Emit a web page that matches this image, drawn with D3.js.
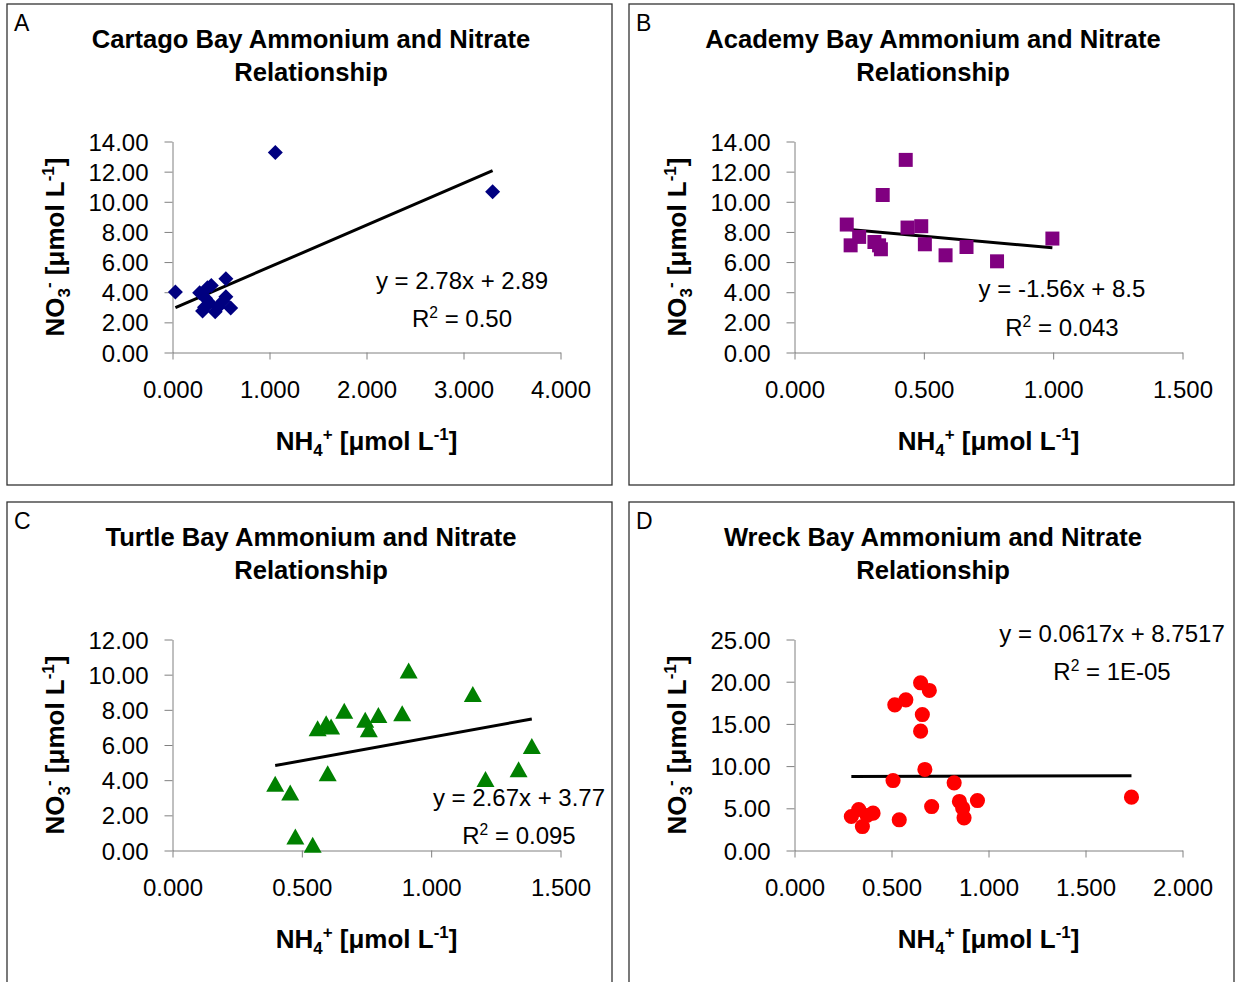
<!DOCTYPE html>
<html>
<head>
<meta charset="utf-8">
<script src="https://cdn.jsdelivr.net/npm/d3@7"></script>
<style>
    body { margin: 0; background: #fff; }
    svg { display: block; font-family: "Liberation Sans", Arial, sans-serif; }
    .axis path, .axis line { stroke: #808080; stroke-width: 1; }
    .axis text { font-size: 24px; fill: #000; }
</style>
</head>
<body>
<div id="chart"></div>
<script>
// values
const panelLetters = ["A", "B", "C", "D"];
const panelTitles = [
    ["Cartago Bay Ammonium and Nitrate", "Relationship"],
    ["Academy Bay Ammonium and Nitrate", "Relationship"],
    ["Turtle Bay Ammonium and Nitrate", "Relationship"],
    ["Wreck Bay Ammonium and Nitrate", "Relationship"]
];

const cartagoNH4 = [1.06, 3.30, 0.03, 0.55, 0.28, 0.36, 0.40, 0.38, 0.31, 0.44, 0.52, 0.60, 0.55, 0.47, 0.34, 0.33];
const cartagoNO3 = [13.27, 10.67, 4.02, 4.90, 3.97, 4.30, 4.45, 3.30, 2.75, 2.70, 3.40, 2.95, 3.70, 3.00, 3.60, 3.00];

const academyNH4 = [0.202, 0.217, 0.25, 0.309, 0.327, 0.334, 0.341, 0.43, 0.437, 0.49, 0.504, 0.584, 0.665, 0.783, 0.997];
const academyNO3 = [8.49, 7.11, 7.67, 7.33, 7.11, 6.85, 10.45, 12.78, 8.29, 8.38, 7.18, 6.45, 7.00, 6.05, 7.56];

const turtleNH4 = [0.397, 0.455, 0.475, 0.542, 0.561, 0.594, 0.613, 0.600, 0.664, 0.745, 0.759, 0.796, 0.888, 0.913, 1.161, 1.210, 1.338, 1.389];
const turtleNO3 = [3.79, 3.30, 0.80, 0.32, 6.95, 7.24, 7.05, 4.40, 7.95, 7.43, 6.90, 7.71, 7.81, 10.23, 8.90, 4.06, 4.62, 5.95];

const wreckNH4 = [0.293, 0.331, 0.350, 0.374, 0.405, 0.508, 0.517, 0.540, 0.574, 0.650, 0.659, 0.650, 0.695, 0.672, 0.707, 0.823, 0.850, 0.867, 0.874, 0.943, 1.737];
const wreckNO3 = [4.03, 4.86, 2.84, 4.15, 4.42, 8.29, 17.26, 3.64, 17.85, 19.87, 16.11, 14.14, 18.96, 9.60, 5.21, 8.02, 5.81, 5.01, 3.87, 5.92, 6.32];

const xTicksA = [0, 1, 2, 3, 4];
const xTicksB = [0, 0.5, 1, 1.5];
const xTicksC = [0, 0.5, 1, 1.5];
const xTicksD = [0, 0.5, 1, 1.5, 2];
const yTicksA = [0, 2, 4, 6, 8, 10, 12, 14];
const yTicksB = [0, 2, 4, 6, 8, 10, 12, 14];
const yTicksC = [0, 2, 4, 6, 8, 10, 12];
const yTicksD = [0, 5, 10, 15, 20, 25];

const trendSlopes = [2.78, -1.56, 2.67, 0.0617];
const trendIntercepts = [2.89, 8.5, 3.77, 8.7517];
const equationLabels = ["y = 2.78x + 2.89", "y = -1.56x + 8.5", "y = 2.67x + 3.77", "y = 0.0617x + 8.7517"];
const r2Labels = ["0.50", "0.043", "0.095", "1E-05"];

const markerColors = ["#000080", "#800080", "#008000", "#ff0000"];

const panels = [
    { x: cartagoNH4, y: cartagoNO3, xTicks: xTicksA, yTicks: yTicksA, marker: "diamond" },
    { x: academyNH4, y: academyNO3, xTicks: xTicksB, yTicks: yTicksB, marker: "square" },
    { x: turtleNH4, y: turtleNO3, xTicks: xTicksC, yTicks: yTicksC, marker: "triangle" },
    { x: wreckNH4, y: wreckNO3, xTicks: xTicksD, yTicks: yTicksD, marker: "circle" }
];

// layout
const width = 1235, height = 982;
const panelOrigins = [[7, 4], [629, 4], [7, 502], [629, 502]];
const panelW = 605, panelH = 481;
const plot = { left: 165.5, top: 137.5, width: 388, height: 211 };
const eqPos = [[455, 285, 323], [433, 293, 332], [512, 304, 342], [483, 140, 178]];

const svg = d3.select("#chart").append("svg")
    .attr("width", width)
    .attr("height", height);

svg.append("rect").attr("width", width).attr("height", height).attr("fill", "#fff");

// text with sub/superscript parts
function richText(sel, parts, size) {
    let shift = 0;
    parts.forEach(function(p) {
        let target = 0;
        let fs = size;
        if (p.s === "sub") { target = size * 0.22; fs = size * 0.65; }
        if (p.s === "sup") { target = -size * 0.38; fs = size * 0.65; }
        sel.append("tspan")
            .attr("dy", target - shift)
            .attr("font-size", fs)
            .text(p.t);
        shift = target;
    });
}

const yTitleParts = [{ t: "NO" }, { t: "3", s: "sub" }, { t: "-", s: "sup" }, { t: " [μmol L" }, { t: "-1", s: "sup" }, { t: "]" }];
const xTitleParts = [{ t: "NH" }, { t: "4", s: "sub" }, { t: "+", s: "sup" }, { t: " [μmol L" }, { t: "-1", s: "sup" }, { t: "]" }];

function markerPath(type) {
    if (type === "diamond") return "M0,-7.5L7.5,0L0,7.5L-7.5,0Z";
    if (type === "square") return "M-7,-7H7V7H-7Z";
    if (type === "triangle") return "M0,-8L9,8L-9,8Z";
    return d3.symbol().type(d3.symbolCircle).size(180)();
}

panels.forEach(function(p, i) {
    const g = svg.append("g")
        .attr("transform", "translate(" + panelOrigins[i][0] + "," + panelOrigins[i][1] + ")");

    g.append("rect")
        .attr("x", 0).attr("y", 0)
        .attr("width", panelW)
        .attr("height", i < 2 ? panelH : 520)
        .attr("fill", "#fff")
        .attr("stroke", "#333")
        .attr("stroke-width", 1.3);

    g.append("text")
        .attr("x", 7).attr("y", 27)
        .attr("font-size", 23)
        .text(panelLetters[i]);

    panelTitles[i].forEach(function(line, k) {
        g.append("text")
            .attr("x", 304).attr("y", 44 + k * 33)
            .attr("text-anchor", "middle")
            .attr("font-size", 25.6)
            .attr("font-weight", "bold")
            .text(line);
    });

    const x = d3.scaleLinear()
        .domain(d3.extent(p.xTicks))
        .range([plot.left, plot.left + plot.width]);
    const y = d3.scaleLinear()
        .domain(d3.extent(p.yTicks))
        .range([plot.top + plot.height, plot.top]);

    const xAxis = g.append("g")
        .attr("class", "axis")
        .attr("transform", "translate(0," + (plot.top + plot.height) + ")")
        .call(d3.axisBottom(x).tickValues(p.xTicks).tickFormat(d3.format(".3f")).tickSize(7).tickSizeOuter(0));
    xAxis.selectAll("text").attr("dy", null).attr("y", 45);

    const yAxis = g.append("g")
        .attr("class", "axis")
        .attr("transform", "translate(" + plot.left + ",0)")
        .call(d3.axisLeft(y).tickValues(p.yTicks).tickFormat(d3.format(".2f")).tickSize(8).tickSizeOuter(0));
    yAxis.selectAll("text").attr("x", -24).attr("dy", "0.36em");

    richText(g.append("text")
        .attr("x", plot.left + plot.width / 2)
        .attr("y", 446)
        .attr("text-anchor", "middle")
        .attr("font-weight", "bold")
        .attr("font-size", 26), xTitleParts, 26);

    richText(g.append("text")
        .attr("transform", "translate(57," + (plot.top + plot.height / 2) + ") rotate(-90)")
        .attr("text-anchor", "middle")
        .attr("font-weight", "bold")
        .attr("font-size", 26), yTitleParts, 26);

    // trendline over the data range
    const x0 = d3.min(p.x), x1 = d3.max(p.x);
    g.append("line")
        .attr("x1", x(x0)).attr("y1", y(trendSlopes[i] * x0 + trendIntercepts[i]))
        .attr("x2", x(x1)).attr("y2", y(trendSlopes[i] * x1 + trendIntercepts[i]))
        .attr("stroke", "#000")
        .attr("stroke-width", 3);

    g.append("g").selectAll("path")
        .data(p.x.map(function(d, k) { return [d, p.y[k]]; }))
        .enter().append("path")
        .attr("d", markerPath(p.marker))
        .attr("transform", function(d) { return "translate(" + x(d[0]) + "," + y(d[1]) + ")"; })
        .attr("fill", markerColors[i]);

    g.append("text")
        .attr("x", eqPos[i][0]).attr("y", eqPos[i][1])
        .attr("text-anchor", "middle")
        .attr("font-size", 24)
        .text(equationLabels[i]);

    richText(g.append("text")
        .attr("x", eqPos[i][0]).attr("y", eqPos[i][2])
        .attr("text-anchor", "middle")
        .attr("font-size", 24), [{ t: "R" }, { t: "2", s: "sup" }, { t: " = " + r2Labels[i] }], 24);
});
</script>
</body>
</html>
